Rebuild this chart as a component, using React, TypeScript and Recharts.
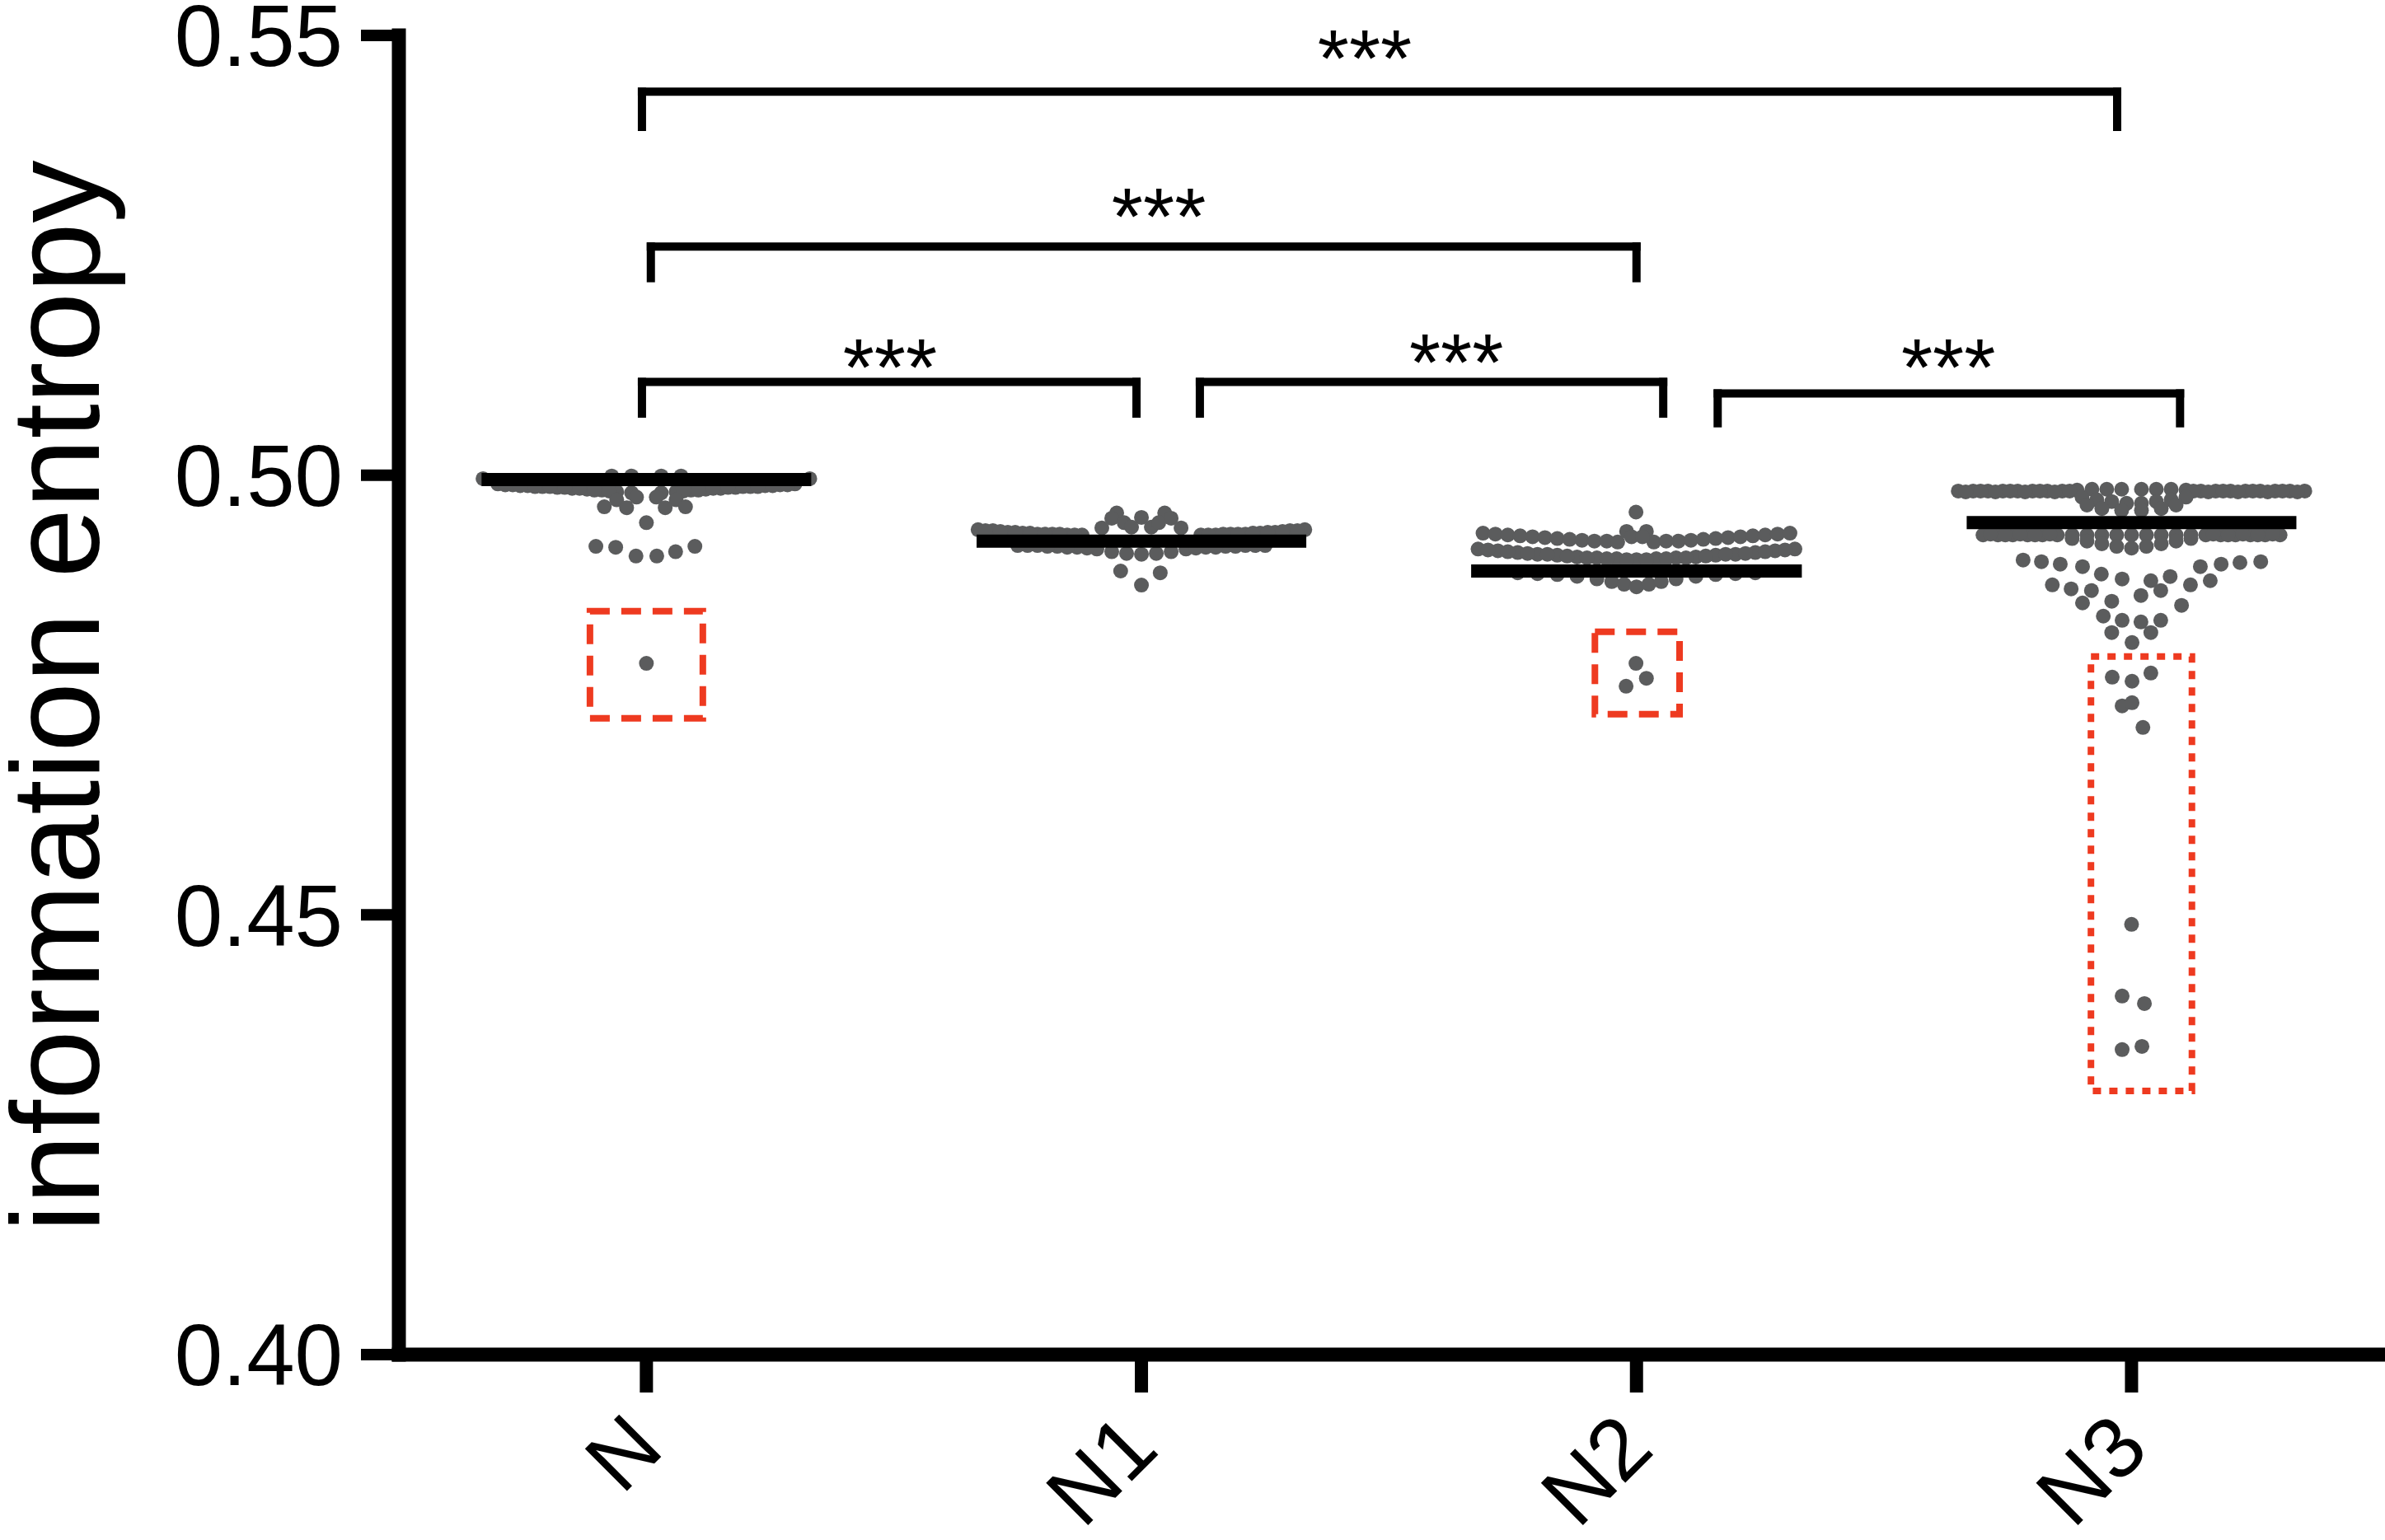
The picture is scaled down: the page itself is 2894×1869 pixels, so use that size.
import React from 'react';
import {
  ComposedChart,
  Scatter,
  XAxis,
  YAxis,
  ReferenceLine,
  ReferenceArea,
  ReferenceDot,
} from 'recharts';

const FONT = '"Liberation Sans", Arial, Helvetica, sans-serif';

// categories and axis
const categories = ['N', 'N1', 'N2', 'N3'];
const categoryIndex = [0, 1, 2, 3];
const yTicks = [0.4, 0.45, 0.5, 0.55];
const yLabel = 'information entropy';

// group means (black bars) and their half width in category units
const groupMeans = [0.4995, 0.4925, 0.4891, 0.4946];
const meanHalfWidth = [0.333, 0.333, 0.334, 0.333];

// points per group: [offset from category centre, value]
const nPoints: [number, number][] = [
  [-0.33, 0.4996], [-0.3, 0.499], [-0.27, 0.4989], [-0.24, 0.4988], [-0.21, 0.4987],
  [-0.18, 0.4986], [-0.15, 0.4985], [-0.12, 0.4984], [-0.09, 0.4983], [-0.06, 0.4981],
  [-0.03, 0.498], [0.03, 0.498], [0.06, 0.4981], [0.09, 0.4983], [0.12, 0.4984],
  [0.15, 0.4985], [0.18, 0.4986], [0.21, 0.4987], [0.24, 0.4988], [0.27, 0.4989],
  [0.3, 0.499], [0.33, 0.4996],
  [-0.285, 0.4989], [-0.255, 0.4988], [-0.225, 0.4987], [-0.195, 0.4987], [-0.165, 0.4986],
  [-0.135, 0.4985], [-0.105, 0.4983], [-0.075, 0.4982], [0.075, 0.4982], [0.105, 0.4983],
  [0.135, 0.4985], [0.165, 0.4986], [0.195, 0.4987], [0.225, 0.4987], [0.255, 0.4988], [0.285, 0.4989],
  [-0.07, 0.4999], [-0.03, 0.4999], [0.03, 0.4999], [0.07, 0.4999],
  [-0.06, 0.4972], [0.06, 0.4972], [-0.02, 0.4975], [0.02, 0.4975],
  [-0.085, 0.4964], [-0.04, 0.4963], [0.038, 0.4963], [0.079, 0.4964],
  [0.0, 0.4946],
  [-0.102, 0.4919], [-0.062, 0.4918], [-0.021, 0.4908], [0.021, 0.4908], [0.059, 0.4913], [0.098, 0.4919],
  [0.0, 0.4786],
];

const n1Points: [number, number][] = [
  [-0.33, 0.4938], [-0.3, 0.4937], [-0.27, 0.4935], [-0.24, 0.4934], [-0.21, 0.4933],
  [-0.18, 0.4933], [-0.15, 0.4932], [-0.12, 0.4932],
  [0.12, 0.4932], [0.15, 0.4932], [0.18, 0.4933], [0.21, 0.4933], [0.24, 0.4934],
  [0.27, 0.4935], [0.3, 0.4937], [0.33, 0.4938],
  [-0.315, 0.4937], [-0.285, 0.4936], [-0.255, 0.4935], [-0.225, 0.4934], [-0.195, 0.4933],
  [-0.165, 0.4933], [-0.135, 0.4932], [0.135, 0.4932], [0.165, 0.4933], [0.195, 0.4933],
  [0.225, 0.4934], [0.255, 0.4935], [0.285, 0.4936], [0.315, 0.4937],
  [-0.05, 0.4957], [0.047, 0.4957], [0.0, 0.4952], [-0.06, 0.4951], [-0.035, 0.4946],
  [-0.02, 0.4941], [0.02, 0.4941], [0.035, 0.4946], [0.06, 0.4951], [-0.08, 0.494], [0.08, 0.494],
  [-0.25, 0.492], [-0.21, 0.492], [-0.17, 0.4919], [-0.13, 0.4918], [-0.09, 0.4916],
  [-0.06, 0.4913], [-0.03, 0.4911], [0.0, 0.491], [0.03, 0.4911], [0.06, 0.4913],
  [0.09, 0.4916], [0.13, 0.4918], [0.17, 0.4919], [0.21, 0.492], [0.25, 0.492],
  [-0.23, 0.492], [-0.19, 0.4919], [-0.15, 0.4918], [-0.11, 0.4917], [0.11, 0.4917],
  [0.15, 0.4918], [0.19, 0.4919], [0.23, 0.492],
  [-0.042, 0.4891], [0.038, 0.4889], [0.0, 0.4875],
];

const n2Points: [number, number][] = [
  [-0.001, 0.4958],
  [-0.31, 0.4934], [-0.285, 0.4933], [-0.26, 0.4932], [-0.235, 0.4931], [-0.21, 0.493],
  [-0.185, 0.4929], [-0.16, 0.4928], [-0.135, 0.4927], [-0.11, 0.4926], [-0.085, 0.4925],
  [-0.06, 0.4925], [-0.038, 0.4924], [-0.02, 0.4936], [0.02, 0.4936], [0.035, 0.4924],
  [0.06, 0.4925], [0.085, 0.4925], [0.11, 0.4926], [0.135, 0.4927], [0.16, 0.4928],
  [0.185, 0.4929], [0.21, 0.493], [0.235, 0.4931], [0.26, 0.4932], [0.285, 0.4933], [0.31, 0.4934],
  [-0.01, 0.493], [0.012, 0.493],
  [-0.32, 0.4916], [-0.28, 0.4914], [-0.24, 0.4912], [-0.2, 0.491], [-0.16, 0.4909],
  [-0.12, 0.4907], [-0.08, 0.4906], [-0.04, 0.4905], [0.0, 0.4904], [0.04, 0.4905],
  [0.08, 0.4906], [0.12, 0.4907], [0.16, 0.4909], [0.2, 0.491], [0.24, 0.4912],
  [0.28, 0.4914], [0.32, 0.4916],
  [-0.3, 0.4915], [-0.26, 0.4913], [-0.22, 0.4911], [-0.18, 0.491], [-0.14, 0.4908],
  [-0.1, 0.4906], [-0.06, 0.4905], [-0.02, 0.4904], [0.02, 0.4904], [0.06, 0.4905],
  [0.1, 0.4906], [0.14, 0.4908], [0.18, 0.491], [0.22, 0.4911], [0.26, 0.4913], [0.3, 0.4915],
  [-0.24, 0.4889], [-0.2, 0.4888], [-0.16, 0.4887], [-0.12, 0.4885], [-0.08, 0.4882],
  [-0.05, 0.4879], [-0.025, 0.4876], [0.0, 0.4873], [0.025, 0.4876], [0.05, 0.4879],
  [0.08, 0.4882], [0.12, 0.4885], [0.16, 0.4887], [0.2, 0.4888], [0.24, 0.4889],
  [-0.001, 0.4786], [0.02, 0.4769], [-0.021, 0.476],
];

const n3Points: [number, number][] = [
  [-0.35, 0.4982], [-0.32, 0.4982], [-0.29, 0.4982], [-0.26, 0.4982], [-0.23, 0.4982],
  [-0.2, 0.4982], [-0.17, 0.4982], [-0.14, 0.4982], [-0.11, 0.4983], [-0.08, 0.4984],
  [-0.05, 0.4984], [-0.02, 0.4984], [0.02, 0.4984], [0.05, 0.4984], [0.08, 0.4984],
  [0.11, 0.4983], [0.14, 0.4982], [0.17, 0.4982], [0.2, 0.4982], [0.23, 0.4982],
  [0.26, 0.4982], [0.29, 0.4982], [0.32, 0.4982], [0.35, 0.4982],
  [-0.335, 0.4981], [-0.305, 0.4982], [-0.275, 0.4981], [-0.245, 0.4982], [-0.215, 0.4981],
  [-0.185, 0.4982], [-0.155, 0.4981], [-0.125, 0.4982], [0.125, 0.4982], [0.155, 0.4981],
  [0.185, 0.4982], [0.215, 0.4981], [0.245, 0.4982], [0.275, 0.4981], [0.305, 0.4982], [0.335, 0.4981],
  [-0.1, 0.4975], [-0.07, 0.4972], [-0.04, 0.497], [-0.01, 0.4968], [0.02, 0.4968],
  [0.05, 0.497], [0.08, 0.4972], [0.11, 0.4975], [-0.06, 0.4962], [-0.02, 0.496],
  [0.02, 0.496], [0.06, 0.4962], [-0.09, 0.4966], [0.09, 0.4966],
  [-0.3, 0.4932], [-0.27, 0.4932], [-0.24, 0.4932], [-0.21, 0.4932], [-0.18, 0.4932],
  [-0.15, 0.4932], [-0.12, 0.4932], [-0.09, 0.4932], [-0.06, 0.4932], [-0.03, 0.4932],
  [0.0, 0.4932], [0.03, 0.4932], [0.06, 0.4932], [0.09, 0.4932], [0.12, 0.4932],
  [0.15, 0.4932], [0.18, 0.4932], [0.21, 0.4932], [0.24, 0.4932], [0.27, 0.4932], [0.3, 0.4932],
  [-0.285, 0.4933], [-0.255, 0.4932], [-0.225, 0.4933], [-0.195, 0.4932], [-0.165, 0.4933],
  [0.165, 0.4933], [0.195, 0.4932], [0.225, 0.4933], [0.255, 0.4932], [0.285, 0.4933],
  [-0.12, 0.4928], [-0.09, 0.4925], [-0.06, 0.4922], [-0.03, 0.4919], [0.0, 0.4917],
  [0.03, 0.4919], [0.06, 0.4922], [0.09, 0.4925], [0.12, 0.4928],
  [-0.219, 0.49035], [-0.182, 0.49016], [-0.144, 0.48988], [-0.099, 0.4896], [-0.061, 0.48875],
  [-0.019, 0.48819], [0.261, 0.49016], [0.219, 0.49006], [0.181, 0.48988], [0.139, 0.4896],
  [0.159, 0.488], [0.119, 0.48753], [0.078, 0.48847], [0.039, 0.488], [0.059, 0.48688],
  [-0.16, 0.48753], [-0.122, 0.48707], [-0.081, 0.48688], [-0.099, 0.48547], [-0.04, 0.48566],
  [0.019, 0.48632], [0.101, 0.48519],
  [-0.057, 0.48397], [-0.019, 0.4835], [0.019, 0.48331], [0.059, 0.4835], [-0.04, 0.4821],
  [0.039, 0.4821], [0.001, 0.48097],
  [-0.039, 0.47703], [0.001, 0.47657], [0.039, 0.4775], [-0.019, 0.47376], [0.001, 0.47413],
  [0.023, 0.47132],
  [0.0, 0.44892], [-0.019, 0.44077], [0.026, 0.43992], [-0.019, 0.43468], [0.021, 0.43505],
];

const groupPoints = [nPoints, n1Points, n2Points, n3Points];

// significance brackets
const bracketFrom = [-0.009, 0.009, -0.009, 1.118, 2.164];
const bracketTo = [2.971, 2.0, 0.99, 2.054, 3.098];
const bracketTop = [0.5436, 0.526, 0.5106, 0.5106, 0.5093];
const bracketDrop = [0.5396, 0.5224, 0.507, 0.507, 0.5059];
const starX = [1.451, 1.035, 0.492, 1.636, 2.63];
const starY = [0.5442, 0.5262, 0.5091, 0.5096, 0.5091];
const starText = ['***', '***', '***', '***', '***'];

// red outlier boxes
const boxX1 = [-0.114, 1.916, 2.918];
const boxX2 = [0.114, 2.087, 3.122];
const boxY1 = [0.47235, 0.47282, 0.42999];
const boxY2 = [0.48454, 0.48219, 0.47938];
const boxDash = ['24 14', '24 14', '10 10'];

const POINT = '#5b5c5d';
const RED = '#ee3a20';

const scatterData = groupPoints.map((pts, g) =>
  pts.map(([dx, v]) => ({ x: categoryIndex[g] + dx, y: v }))
);

const Dot = (props: any) => {
  const { cx, cy } = props;
  if (cx == null || cy == null) return null;
  return <circle cx={cx} cy={cy} r={9} fill={POINT} />;
};

const XTick = (props: any) => {
  const { x, y, payload } = props;
  const tx = x + 24;
  const ty = y + 72;
  return (
    <text
      x={tx}
      y={ty}
      transform={`rotate(-45, ${tx}, ${ty})`}
      textAnchor="end"
      fontSize={105}
      fontFamily={FONT}
      fill="#000"
    >
      {categories[payload.value]}
    </text>
  );
};

const Stars = (text: string) => (props: any) => {
  const { cx, cy } = props;
  return (
    <text x={cx} y={cy} textAnchor="middle" fontSize={98} fontFamily={FONT} fill="#000">
      {text}
    </text>
  );
};

export default function App() {
  return (
    <div style={{ width: 2894, height: 1869, background: '#fff' }}>
      <style>{`body{margin:0;background:#fff}`}</style>
      <ComposedChart
        width={2894}
        height={1869}
        margin={{ top: 43, right: 0, bottom: 0, left: 0 }}
      >
        <XAxis
          type="number"
          dataKey="x"
          domain={[-0.5, 3.512]}
          ticks={categoryIndex}
          interval={0}
          allowDataOverflow
          height={225}
          tickSize={46}
          tickMargin={0}
          axisLine={{ stroke: '#000', strokeWidth: 17, strokeLinecap: 'square' }}
          tickLine={{ stroke: '#000', strokeWidth: 16 }}
          tick={<XTick />}
        />
        <YAxis
          type="number"
          dataKey="y"
          domain={[0.4, 0.55]}
          ticks={yTicks}
          interval={0}
          allowDataOverflow
          width={484}
          tickSize={46}
          tickMargin={22}
          tickFormatter={(v: number) => v.toFixed(2)}
          axisLine={{ stroke: '#000', strokeWidth: 17, strokeLinecap: 'square' }}
          tickLine={{ stroke: '#000', strokeWidth: 14 }}
          tick={{ fontSize: 105, fill: '#000', fontFamily: FONT }}
          label={{
            content: () => (
              <text
                transform="translate(120, 845) rotate(-90)"
                textAnchor="middle"
                fontSize={152}
                fontFamily={FONT}
                fill="#000"
              >
                {yLabel}
              </text>
            ),
          }}
        />

        {scatterData.map((d, i) => (
          <Scatter
            key={`s${i}`}
            data={d}
            dataKey="y"
            shape={<Dot />}
            isAnimationActive={false}
          />
        ))}

        {groupMeans.map((m, i) => (
          <ReferenceLine
            key={`m${i}`}
            segment={[
              { x: categoryIndex[i] - meanHalfWidth[i], y: m },
              { x: categoryIndex[i] + meanHalfWidth[i], y: m },
            ]}
            stroke="#000"
            strokeWidth={16}
            ifOverflow="visible"
            zIndex={1500}
          />
        ))}

        {boxX1.map((x1, i) => (
          <ReferenceArea
            key={`b${i}`}
            x1={x1}
            x2={boxX2[i]}
            y1={boxY1[i]}
            y2={boxY2[i]}
            fill="none"
            fillOpacity={0}
            stroke={RED}
            strokeWidth={8}
            strokeDasharray={boxDash[i]}
            ifOverflow="visible"
          />
        ))}

        {bracketFrom.map((x1, i) => (
          <ReferenceLine
            key={`bt${i}`}
            segment={[
              { x: x1, y: bracketTop[i] },
              { x: bracketTo[i], y: bracketTop[i] },
            ]}
            stroke="#000"
            strokeWidth={10}
            strokeLinecap="square"
            ifOverflow="visible"
          />
        ))}
        {bracketFrom.map((x1, i) => (
          <ReferenceLine
            key={`bl${i}`}
            segment={[
              { x: x1, y: bracketTop[i] },
              { x: x1, y: bracketDrop[i] },
            ]}
            stroke="#000"
            strokeWidth={10}
            strokeLinecap="square"
            ifOverflow="visible"
          />
        ))}
        {bracketTo.map((x2, i) => (
          <ReferenceLine
            key={`br${i}`}
            segment={[
              { x: x2, y: bracketTop[i] },
              { x: x2, y: bracketDrop[i] },
            ]}
            stroke="#000"
            strokeWidth={10}
            strokeLinecap="square"
            ifOverflow="visible"
          />
        ))}
        {starX.map((sx, i) => (
          <ReferenceDot
            key={`st${i}`}
            x={sx}
            y={starY[i]}
            r={0}
            ifOverflow="visible"
            shape={Stars(starText[i])}
          />
        ))}
      </ComposedChart>
    </div>
  );
}
